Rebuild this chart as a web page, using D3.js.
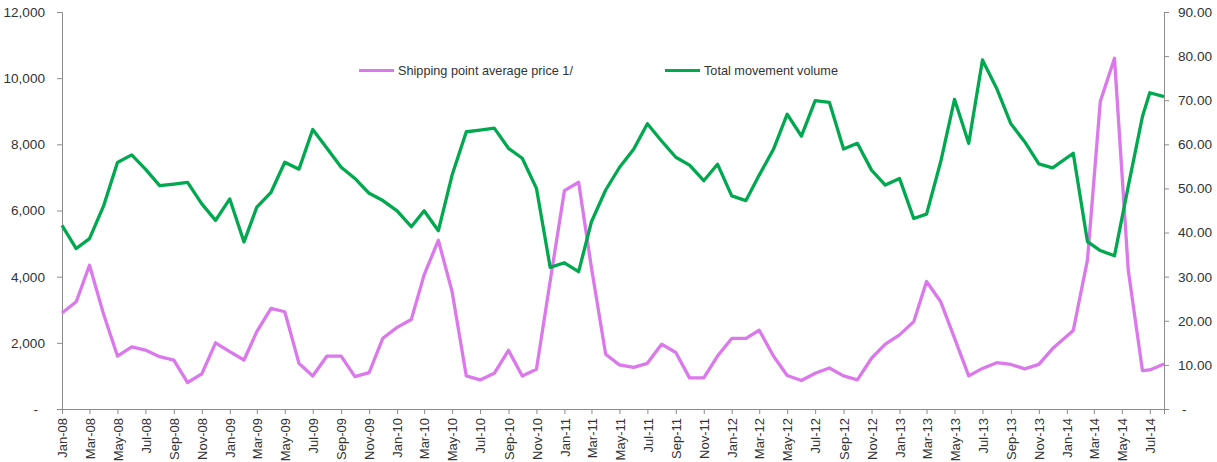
<!DOCTYPE html>
<html>
<head>
<meta charset="utf-8">
<script src="https://cdn.jsdelivr.net/npm/d3@7"></script>
<style>
  html, body { margin: 0; padding: 0; background: #fff; }
  svg { display: block; }
  text { font-family: "Liberation Sans", Arial, sans-serif; fill: #333; }
</style>
</head>
<body>
<svg id="chart" width="1217" height="462"></svg>
<script>
// Dates of each observation (Jan–Jun 2014 observations fall mid-month)
const dates = [
  "2008-01-01","2008-02-01","2008-03-01","2008-04-01","2008-05-01","2008-06-01","2008-07-01","2008-08-01","2008-09-01","2008-10-01","2008-11-01","2008-12-01",
  "2009-01-01","2009-02-01","2009-03-01","2009-04-01","2009-05-01","2009-06-01","2009-07-01","2009-08-01","2009-09-01","2009-10-01","2009-11-01","2009-12-01",
  "2010-01-01","2010-02-01","2010-03-01","2010-04-01","2010-05-01","2010-06-01","2010-07-01","2010-08-01","2010-09-01","2010-10-01","2010-11-01","2010-12-01",
  "2011-01-01","2011-02-01","2011-03-01","2011-04-01","2011-05-01","2011-06-01","2011-07-01","2011-08-01","2011-09-01","2011-10-01","2011-11-01","2011-12-01",
  "2012-01-01","2012-02-01","2012-03-01","2012-04-01","2012-05-01","2012-06-01","2012-07-01","2012-08-01","2012-09-01","2012-10-01","2012-11-01","2012-12-01",
  "2013-01-01","2013-02-01","2013-03-01","2013-04-01","2013-05-01","2013-06-01","2013-07-01","2013-08-01","2013-09-01","2013-10-01","2013-11-01","2013-12-01",
  "2014-01-15","2014-02-15","2014-03-15","2014-04-15","2014-05-15","2014-06-15","2014-07-01","2014-08-01"
];

// Shipping point average price 1/ (right axis)
const price = [
  21.75, 24.3, 32.6, 21.4, 12.0, 14.1, 13.35, 11.85, 11.1, 6.0, 7.95, 15.0,
  13.0, 11.1, 17.55, 22.8, 22.05, 10.35, 7.5, 12.0, 12.0, 7.35, 8.25, 16.05,
  18.5, 20.3, 30.4, 38.25, 26.6, 7.5, 6.6, 8.1, 13.3, 7.5, 9.0, 29.0,
  49.5, 51.4, 32.0, 12.4, 10.0, 9.45, 10.35, 14.7, 12.8, 7.05, 7.05, 12.0,
  16.0, 16.0, 17.85, 12.0, 7.6, 6.45, 8.1, 9.3, 7.5, 6.6, 11.5, 14.7,
  16.8, 19.8, 28.9, 24.3, 16.05, 7.5, 9.2, 10.5, 10.1, 9.1, 10.1, 13.7,
  17.8, 33.75, 69.7, 79.5, 31.5, 8.7, 8.85, 10.2
];

// Total movement volume (left axis)
const volume = [
  5550, 4850, 5150, 6150, 7450, 7680, 7250, 6750, 6800, 6850, 6200, 5700,
  6350, 5050, 6100, 6550, 7460, 7250, 8450, 7880, 7310, 6970, 6520, 6300,
  5990, 5510, 5990, 5390, 7070, 8380, 8430, 8490, 7880, 7580, 6670, 4280,
  4420, 4150, 5660, 6620, 7300, 7850, 8620, 8100, 7610, 7370, 6900, 7400,
  6440, 6300, 7070, 7850, 8910, 8250, 9320, 9270, 7860, 8030, 7220, 6770,
  6970, 5760, 5890, 7480, 9360, 8030, 10550, 9690, 8620, 8080, 7410, 7290,
  7730, 5060, 4790, 4630, 6730, 8840, 9560, 9440
];

const leftTicks = [0, 2000, 4000, 6000, 8000, 10000, 12000];
const rightTicks = [0, 10, 20, 30, 40, 50, 60, 70, 80, 90];
const seriesNames = ["Shipping point average price 1/", "Total movement volume"];
const colors = ["#DA78EC", "#00A84F"];

const svg = d3.select("#chart");
const plotLeft = 62, plotRight = 1164, plotTop = 12, plotBottom = 409;

const parse = d3.utcParse("%Y-%m-%d");
const xDates = dates.map(parse);

const x = d3.scaleUtc()
  .domain([parse("2008-01-01"), parse("2014-08-01")])
  .range([plotLeft, plotRight]);
const yL = d3.scaleLinear().domain([0, 12000]).range([plotBottom, plotTop]);
const yR = d3.scaleLinear().domain([0, 90]).range([plotBottom, plotTop]);

const axisColor = "#8c8c8c";

// Left axis
const gL = svg.append("g").attr("transform", `translate(${plotLeft},0)`)
  .call(d3.axisLeft(yL).tickValues(leftTicks).tickSize(5).tickPadding(12)
    .tickFormat(d => d === 0 ? "-" : d3.format(",")(d)));
gL.selectAll("text").style("font-size", "13.6px")
  .attr("dx", d => d === 0 ? "-7" : "0");

// Right axis
const gR = svg.append("g").attr("transform", `translate(${plotRight},0)`)
  .call(d3.axisRight(yR).tickValues(rightTicks).tickSize(5).tickPadding(9)
    .tickFormat(d => d === 0 ? "-" : d3.format(".2f")(d)));
gR.selectAll("text").style("font-size", "13.6px")
  .attr("dx", d => d === 0 ? "4" : "0");

// Bottom axis
const gB = svg.append("g").attr("transform", `translate(0,${plotBottom})`)
  .call(d3.axisBottom(x).ticks(d3.utcMonth.every(2)).tickSize(5)
    .tickFormat(d3.utcFormat("%b-%y")));
gB.selectAll("text")
  .style("font-size", "13px")
  .attr("text-anchor", "end")
  .attr("transform", "rotate(-90)")
  .attr("x", -9)
  .attr("y", 0)
  .attr("dy", "0.36em");

[gL, gR, gB].forEach(g => {
  g.select(".domain").attr("stroke", axisColor);
  g.selectAll(".tick line").attr("stroke", axisColor);
  g.selectAll("text").attr("fill", "#333");
});

// Lines
const linePrice = d3.line().x((d, i) => x(xDates[i])).y(d => yR(d));
const lineVol = d3.line().x((d, i) => x(xDates[i])).y(d => yL(d));

svg.append("path").datum(price)
  .attr("fill", "none").attr("stroke", colors[0]).attr("stroke-width", 3.3)
  .attr("stroke-linejoin", "round").attr("d", linePrice);
svg.append("path").datum(volume)
  .attr("fill", "none").attr("stroke", colors[1]).attr("stroke-width", 3.3)
  .attr("stroke-linejoin", "round").attr("d", lineVol);

// Legend
const legendItems = [
  { name: seriesNames[0], color: colors[0], x: 359 },
  { name: seriesNames[1], color: colors[1], x: 665 }
];
const lg = svg.append("g");
legendItems.forEach(it => {
  lg.append("line").attr("x1", it.x).attr("x2", it.x + 35)
    .attr("y1", 70.5).attr("y2", 70.5)
    .attr("stroke", it.color).attr("stroke-width", 3);
  lg.append("text").attr("x", it.x + 39).attr("y", 75)
    .style("font-size", "12.7px").attr("fill", "#333").text(it.name);
});
</script>
</body>
</html>
